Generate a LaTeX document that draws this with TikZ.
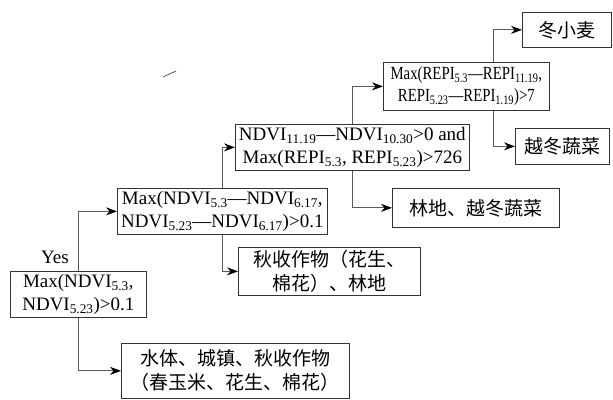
\documentclass[tikz,border=0pt]{standalone}
\usepackage{fontspec}
\setmainfont{Liberation Serif}
\newfontfamily\condensedserif[FakeStretch=0.8]{Liberation Serif}
\newfontfamily\cjk{Noto Sans CJK SC}
\usetikzlibrary{arrows.meta}
\begin{document}
\begin{tikzpicture}[x=1pt,y=-1pt,
  box/.style={draw=black!80, line width=0.7pt, inner sep=0pt, anchor=north west,
    align=center, font=\fontsize{19}{23}\selectfont},
  sbox/.style={box, font=\condensedserif\fontsize{18.5}{22}\selectfont},
  cbox/.style={box, font=\cjk\fontsize{19}{24}\selectfont},
  conn/.style={draw=black!65, line width=0.8pt, -{Stealth[length=11pt,width=8pt,black]}},
  lbl/.style={font=\fontsize{19}{23}\selectfont, inner sep=0pt}]
\useasboundingbox (0,0) rectangle (613,399);

\node[box, minimum width=136pt, minimum height=46pt] (A) at (10,271)
  {Max(NDVI\textsubscript{5.3},\\ NDVI\textsubscript{5.23})>0.1};
\node[box, minimum width=210pt, minimum height=46pt] (B) at (117,188)
  {Max(NDVI\textsubscript{5.3}—NDVI\textsubscript{6.17},\\NDVI\textsubscript{5.23}—NDVI\textsubscript{6.17})>0.1};
\node[box, minimum width=234pt, minimum height=46pt] (C) at (235,124)
  {NDVI\textsubscript{11.19}—NDVI\textsubscript{10.30}>0 and\\Max(REPI\textsubscript{5.3}, REPI\textsubscript{5.23})>726};
\node[sbox, minimum width=166pt, minimum height=48pt] (G) at (383,62)
  {Max(REPI\textsubscript{5.3}—REPI\textsubscript{11.19},\\REPI\textsubscript{5.23}—REPI\textsubscript{1.19})>7};
\node[cbox, minimum width=89pt, minimum height=35pt] (H) at (522,12) {冬小麦};
\node[cbox, minimum width=94pt, minimum height=36pt] (I) at (515,128) {越冬蔬菜};
\node[cbox, minimum width=167pt, minimum height=39pt] (F) at (392,188) {林地、越冬蔬菜};
\node[cbox, minimum width=182pt, minimum height=48pt] (D) at (238,247) {秋收作物（花生、\\棉花）、林地};
\node[cbox, minimum width=228pt, minimum height=55pt] (E) at (121,343) {水体、城镇、秋收作物\\（春玉米、花生、棉花）};

\node[lbl] (yes) at (55,257) {Yes};

\coordinate (gx) at (493,0);

\draw[conn] (A.north) |- (B.west);
\draw[conn] (A.south) |- (E.west);
\draw[conn] (B.north) |- (C.west);
\draw[conn] (B.south) |- (D.west);
\draw[conn] (C.north) |- (G.west);
\draw[conn] (C.south) |- (F.west);
\draw[conn] (G.north -| gx) |- (H.west);
\draw[conn] (G.south -| gx) |- (I.west);

\coordinate (s1) at (163,77);
\coordinate (s2) at (176,71);
\draw[black!70, line width=0.7pt] (s1) -- (s2);
\end{tikzpicture}
\end{document}
